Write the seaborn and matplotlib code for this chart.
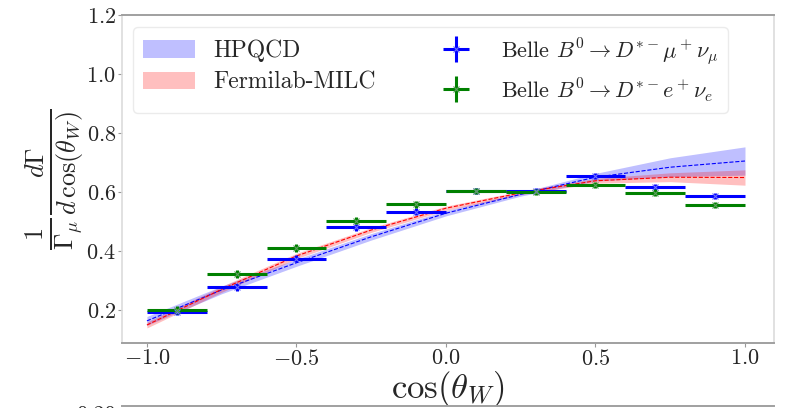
import numpy as np
import pandas as pd
import matplotlib
matplotlib.use("Agg")
import matplotlib.pyplot as plt
import seaborn as sns
from matplotlib.container import ErrorbarContainer
from matplotlib.legend_handler import HandlerErrorbar
from matplotlib.patches import Patch

# ---- data ----
bin_centers = [-0.9, -0.7, -0.5, -0.3, -0.1, 0.1, 0.3, 0.5, 0.7, 0.9]
bin_halfwidth = [0.1] * 10
belle_mu = [0.194, 0.277, 0.374, 0.480, 0.533, 0.603, 0.603, 0.654, 0.616, 0.586]
belle_mu_err = [0.012, 0.012, 0.012, 0.011, 0.011, 0.010, 0.010, 0.011, 0.011, 0.010]
belle_e = [0.199, 0.322, 0.409, 0.503, 0.559, 0.603, 0.601, 0.623, 0.598, 0.556]
belle_e_err = [0.013, 0.013, 0.013, 0.012, 0.012, 0.010, 0.010, 0.011, 0.011, 0.009]

band_x = [-1.0, -0.75, -0.5, -0.25, 0.0, 0.25, 0.5, 0.75, 1.0]
hpqcd_c = [0.163, 0.268, 0.360, 0.448, 0.528, 0.592, 0.650, 0.684, 0.705]
hpqcd_hw = [0.015, 0.013, 0.012, 0.011, 0.009, 0.006, 0.013, 0.032, 0.048]
fnal_c = [0.149, 0.270, 0.383, 0.471, 0.545, 0.597, 0.638, 0.650, 0.649]
fnal_hw = [0.010, 0.010, 0.009, 0.008, 0.007, 0.006, 0.008, 0.015, 0.026]

xticks = [-1.0, -0.5, 0.0, 0.5, 1.0]
yticks = [0.2, 0.4, 0.6, 0.8, 1.0, 1.2]

# ---- style ----
sns.set_theme(style="white")
plt.rcParams.update({
    "font.family": "serif",
    "font.serif": ["cmr10", "DejaVu Serif"],
    "mathtext.fontset": "cm",
    "axes.formatter.use_mathtext": True,
    "axes.unicode_minus": True,
})

fig = plt.figure(figsize=(7.86, 4.08), dpi=100)
ax = fig.add_axes([121.5 / 786, 65 / 408, (774 - 121.5) / 786, (343 - 15) / 408])

hx = np.array(band_x)
hc = np.array(hpqcd_c); hw = np.array(hpqcd_hw)
fc = np.array(fnal_c); fw = np.array(fnal_hw)

ax.fill_between(hx, hc - hw, hc + hw, color="blue", alpha=0.25, lw=0)
ax.fill_between(hx, fc - fw, fc + fw, color="red", alpha=0.25, lw=0)
df_h = pd.DataFrame({"x": band_x, "y": hpqcd_c})
df_f = pd.DataFrame({"x": band_x, "y": fnal_c})
sns.lineplot(data=df_h, x="x", y="y", ax=ax, color="blue", lw=0.8, linestyle="--")
sns.lineplot(data=df_f, x="x", y="y", ax=ax, color="red", lw=0.8, linestyle="--")

eb_mu = ax.errorbar(bin_centers, belle_mu, xerr=bin_halfwidth, yerr=belle_mu_err,
                    fmt="x", color="blue", ecolor="blue", elinewidth=2.2,
                    markersize=5, mew=0.8, mec="#6f6fff")
eb_e = ax.errorbar(bin_centers, belle_e, xerr=bin_halfwidth, yerr=belle_e_err,
                   fmt="x", color="green", ecolor="green", elinewidth=2.2,
                   markersize=5, mew=0.8, mec="#5fa05f")

ax.set_xlim(-1.085, 1.097)
ax.set_ylim(0.088, 1.2)
ax.set_xticks(xticks)
ax.set_yticks(yticks)
ax.tick_params(axis="both", labelsize=16, length=3, width=0.8, color="#999999", pad=1, direction="out")
ax.tick_params(axis="both", which="both", bottom=True, left=True)

ax.set_xlabel(r"$\cos(\theta_W)$", fontsize=25, labelpad=0)
ax.set_ylabel(r"$\frac{1}{\Gamma_\mu}\frac{d\Gamma}{d\,\cos(\theta_W)}$", fontsize=27, labelpad=0)

for side in ["top", "bottom"]:
    ax.spines[side].set_color("#a0a0a0")
    ax.spines[side].set_linewidth(1.4)
for side in ["left", "right"]:
    ax.spines[side].set_color("#dcdcdc")
    ax.spines[side].set_linewidth(1.2)

handles = [Patch(facecolor="blue", alpha=0.25, lw=0),
           Patch(facecolor="red", alpha=0.25, lw=0),
           eb_mu, eb_e]
labels = ["HPQCD", "Fermilab-MILC",
          r"Belle $B^0 \to D^{*-}\mu^+\nu_\mu$",
          r"Belle $B^0 \to D^{*-}e^+\nu_e$"]
leg = ax.legend(handles, labels, ncol=2, loc="upper left", fontsize=17,
                bbox_to_anchor=(0.0, 1.0), borderaxespad=0.5,
                handlelength=2.2, handleheight=0.75, handletextpad=0.8,
                columnspacing=2.3, labelspacing=0.4, frameon=True, fancybox=True,
                handler_map={ErrorbarContainer: HandlerErrorbar(xerr_size=0.55)})
for t in leg.get_texts()[2:]:
    t.set_fontsize(16)
leg.get_frame().set_edgecolor("#e6e6e6")
leg.get_frame().set_linewidth(1.0)

# partial view of the next panel below
ax2 = fig.add_axes([121.5 / 786, (2 - 300) / 408, (774 - 121.5) / 786, 300 / 408])
ax2.set_xlim(-1.085, 1.097)
ax2.set_ylim(0.0, 0.205)
ax2.set_yticks([0.2])
ax2.set_yticklabels(["0.20"])
ax2.set_xticks([])
ax2.tick_params(axis="y", labelsize=16, length=3, color="#999999", pad=1)
for side in ["left", "right", "bottom"]:
    ax2.spines[side].set_visible(False)
ax2.spines["top"].set_color("#a0a0a0")
ax2.spines["top"].set_linewidth(1.4)

fig.savefig("out.png", dpi=100)
